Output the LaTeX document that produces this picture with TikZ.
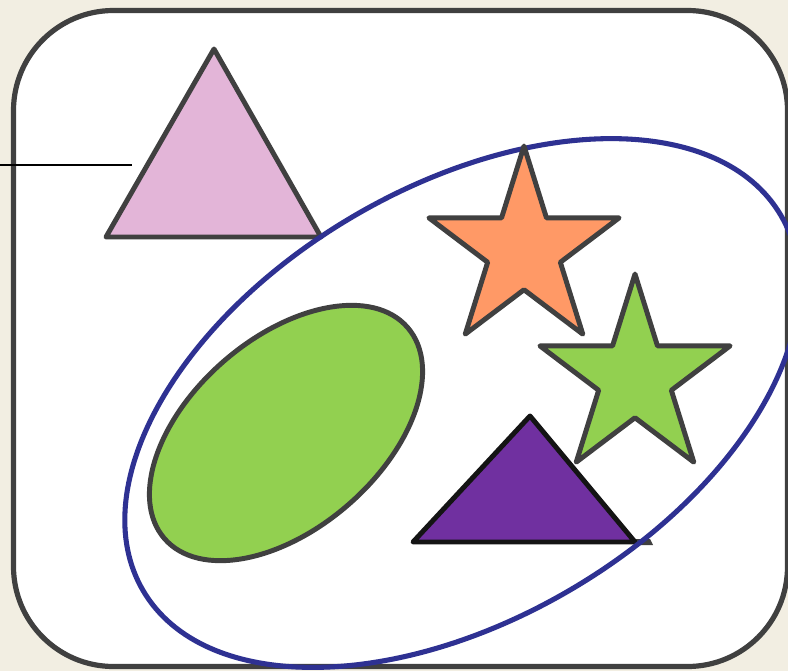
\documentclass[tikz,border=0pt]{standalone}
\usetikzlibrary{positioning}
\definecolor{parchment}{RGB}{242,238,226}
\definecolor{framegray}{RGB}{64,64,64}
\definecolor{pinkfill}{RGB}{227,181,216}
\definecolor{orangefill}{RGB}{255,153,102}
\definecolor{limegreen}{RGB}{146,208,80}
\definecolor{deeppurple}{RGB}{112,48,160}
\definecolor{setblue}{RGB}{46,49,146}

\begin{document}
\begin{tikzpicture}[
    x=0.75pt, y=-0.75pt,
    frame/.style={draw=framegray, line width=3.9pt, fill=white, rounded corners=75pt},
    shapeline/.style={draw=framegray, line width=3.7pt, line join=round},
    setline/.style={draw=setblue, line width=3.8pt},
    pointer/.style={draw=black, line width=1.4pt}
  ]
  \useasboundingbox (0,0) rectangle (788,671);
  \clip (0,0) rectangle (788,671);
  \fill[parchment] (0,0) rectangle (788,671);
  \draw[frame] (13.5,10.5) rectangle (787.5,666.5);

  % pink triangle and its pointer
  \draw[shapeline, fill=pinkfill] (214,49) -- (106,237) -- (321,237) -- cycle;
  \coordinate (pointerStart) at (0,165);
  \coordinate (pointerEnd) at (132,165);
  \draw[pointer] (pointerStart) -- (pointerEnd);

  % shapes inside the set
  \draw[shapeline, fill=limegreen, rotate around={41:(286,433)}]
    (286,433) ellipse [x radius=161, y radius=95];
  \draw[shapeline, fill=limegreen, shift={(635,378)}, yscale=1.04]
    (-90:100) \foreach \ang/\rad in {-54/38.2, -18/100, 18/38.2, 54/100, 90/38.2, 126/100, 162/38.2, 198/100, 234/38.2} { -- (\ang:\rad) } -- cycle;
  \fill[framegray] (634,539) -- (650,539) -- (653,545) -- (634,545) -- cycle;
  \draw[line width=3.7pt, draw=black!92, line join=round, fill=deeppurple]
    (530,416) -- (413,542) -- (635,542) -- cycle;

  % the set
  \draw[setline, rotate around={30.5:(462,403)}]
    (462,403) ellipse [x radius=370, y radius=216];

  \draw[shapeline, fill=orangefill, shift={(524,250)}, yscale=1.04]
    (-90:100) \foreach \ang/\rad in {-54/38.2, -18/100, 18/38.2, 54/100, 90/38.2, 126/100, 162/38.2, 198/100, 234/38.2} { -- (\ang:\rad) } -- cycle;
\end{tikzpicture}
\end{document}
